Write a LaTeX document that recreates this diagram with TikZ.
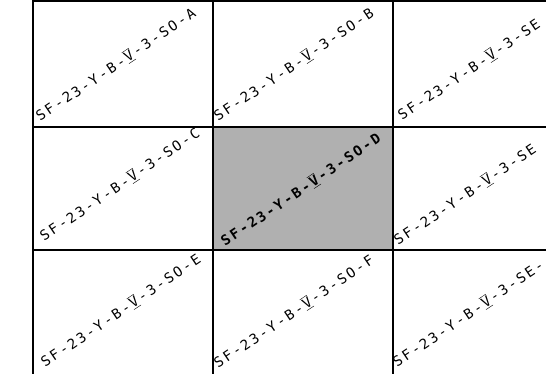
\documentclass[tikz,border=0pt]{standalone}
\usepackage{fontspec}
\newfontfamily\tw[LetterSpace=16]{DejaVu Sans Mono}
\newcommand\barV{\kern1.8pt\ensuremath{\overline{\underline{\hbox{\tw V}}}}\kern1.8pt}
\newcommand\lbl[1]{SF-23-Y-B-\barV-3-#1}
\begin{document}
\begin{tikzpicture}[x=1pt,y=-1pt,
  cell/.style={draw=black,line width=1.1pt,inner sep=0pt,outer sep=0pt,anchor=north west},
  hot/.style={cell,line width=2pt,fill=gray!62},
  lab/.style={font=\tw\fontsize{14}{16}\selectfont,anchor=base west,rotate=34,inner sep=0pt}]
\useasboundingbox (0,0) rectangle (546,374);
\clip (0,0) rectangle (546,374);
% row 1
\node[cell,minimum width=180pt,minimum height=126pt] (A) at (33,1) {};
\node[cell,minimum width=180pt,minimum height=126pt] (B) at (213,1) {};
\node[cell,minimum width=180pt,minimum height=126pt] (R1) at (393,1) {};
% row 2
\node[cell,minimum width=180pt,minimum height=123pt] (C) at (33,127) {};
\node[cell,minimum width=180pt,minimum height=123pt] (R2) at (393,127) {};
% row 3
\node[cell,minimum width=180pt,minimum height=127pt] (E) at (33,250) {};
\node[cell,minimum width=180pt,minimum height=127pt] (F) at (213,250) {};
\node[cell,minimum width=180pt,minimum height=127pt] (R3) at (393,250) {};
% highlighted cell
\node[hot,minimum width=180pt,minimum height=123pt] (D) at (213,127) {};
% labels
\node[lab] (tA) at ([shift={(7,-5)}]A.south west) {\lbl{SO-A}};
\node[lab] (tB) at ([shift={(5,-5)}]B.south west) {\lbl{SO-B}};
\node[lab] (tR1) at ([shift={(9,-6)}]R1.south west) {\lbl{SE}};
\node[lab] (tC) at ([shift={(11,-8)}]C.south west) {\lbl{SO-C}};
\node[lab,font=\tw\bfseries\fontsize{14}{16}\selectfont] (tD) at ([shift={(12,-3)}]D.south west) {\lbl{SO-D}};
\node[lab] (tR2) at ([shift={(5,-4)}]R2.south west) {\lbl{SE}};
\node[lab] (tE) at ([shift={(12,-9)}]E.south west) {\lbl{SO-E}};
\node[lab] (tF) at ([shift={(5,-8)}]F.south west) {\lbl{SO-F}};
\node[lab] (tR3) at ([shift={(4,-9)}]R3.south west) {\lbl{SE-}};
\end{tikzpicture}
\end{document}
